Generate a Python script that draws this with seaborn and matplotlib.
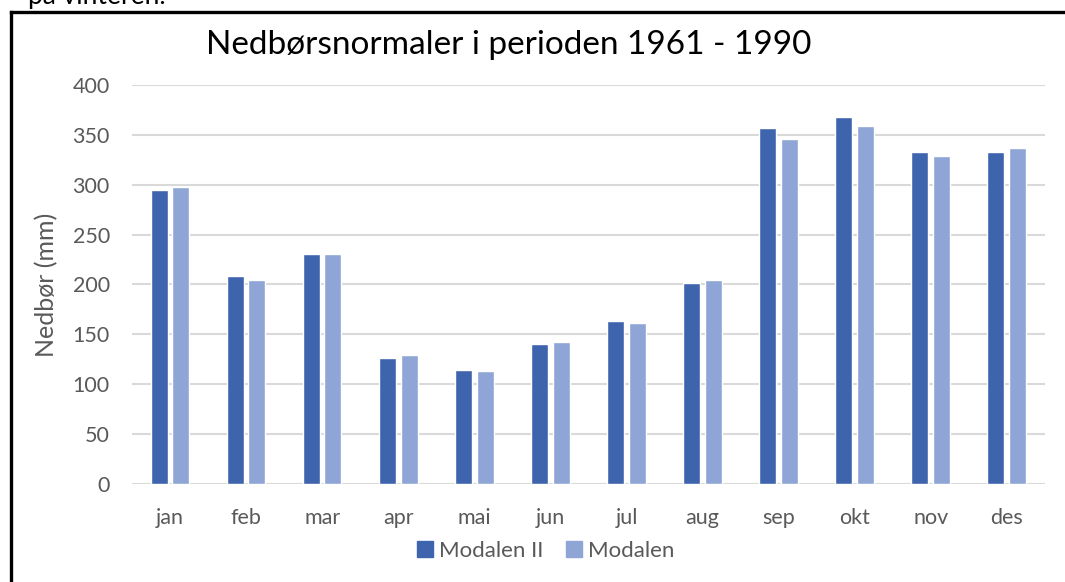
import matplotlib.pyplot as plt
import matplotlib.lines as mlines
import pandas as pd
import seaborn as sns

sns.set_theme(style="white")
plt.rcParams['font.family'] = ['Lato', 'DejaVu Sans']

# Data (mm)
maaneder = ['jan', 'feb', 'mar', 'apr', 'mai', 'jun', 'jul', 'aug', 'sep', 'okt', 'nov', 'des']
modalen_ii = [295, 209, 231, 126, 114, 140, 163, 201, 357, 368, 333, 333]
modalen = [298, 204, 231, 129, 113, 142, 161, 204, 346, 359, 329, 337]
serier = ['Modalen II', 'Modalen']
farger = ['#3F64AE', '#8FA5D6']

df = pd.DataFrame({'Maaned': maaneder * 2,
                   'Nedbor': modalen_ii + modalen,
                   'Serie': [serier[0]] * 12 + [serier[1]] * 12})

fig = plt.figure(figsize=(10.65, 5.82), dpi=100)
ax = fig.add_axes([0.124, 0.1684, 0.857, 0.6856])

sns.barplot(ax=ax, data=df, x='Maaned', y='Nedbor', hue='Serie', palette=farger,
            width=0.566, gap=0.21, saturation=1, legend=False)

ax.set_ylim(0, 400)
ax.set_yticks(range(0, 401, 50))
ax.yaxis.grid(True, color='#D9D9D9', linewidth=1.5)
ax.set_axisbelow(True)
sns.despine(ax=ax, left=True, bottom=True)
ax.tick_params(axis='both', length=0, labelsize=15.5, labelcolor='#595959')
ax.tick_params(axis='x', pad=17)
ax.tick_params(axis='y', pad=16)
ax.set_xlabel('')
ax.set_ylabel('Nedbør (mm)', fontsize=18, color='#595959', labelpad=10)

fig.text(0.478, 0.923, 'Nedbørsnormaler i perioden 1961 - 1990', ha='center', va='center',
         fontsize=24, color='#000000')

# Legend
handles = [mlines.Line2D([], [], marker='s', linestyle='', markersize=11, color=c) for c in farger]
fig.legend(handles, serier, loc='center', bbox_to_anchor=(0.512, 0.053), ncol=2, frameon=False,
           fontsize=16, labelcolor='#595959', handletextpad=0.2, columnspacing=1.0,
           handlelength=0.8)

# Cut-off text above and frame from the page
fig.text(0.026, 1 - 4 / 582, 'på vinteren.', ha='left', va='baseline', fontsize=19, color='#000000')
fig.add_artist(mlines.Line2D([11 / 1065, 11 / 1065], [0, 1 - 12 / 582], color='black',
                             linewidth=2.4, transform=fig.transFigure, solid_capstyle='projecting'))
fig.add_artist(mlines.Line2D([11 / 1065, 1], [1 - 12 / 582, 1 - 12 / 582], color='black',
                             linewidth=2.4, transform=fig.transFigure, solid_capstyle='projecting'))

fig.savefig('out.png', dpi=100)
